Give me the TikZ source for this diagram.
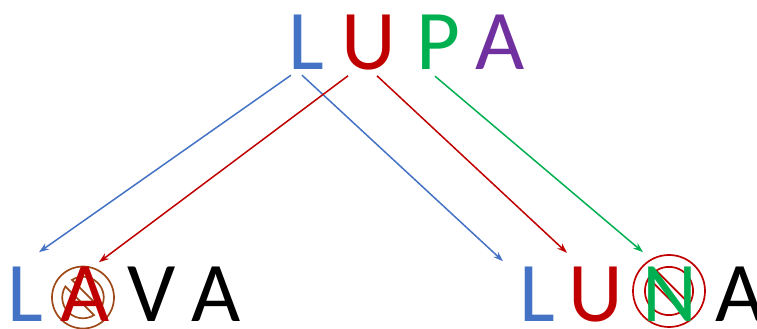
\documentclass[tikz,border=0pt]{standalone}
\usepackage{fontspec}
\setmainfont{Carlito}
\usepackage{tikz}
\usetikzlibrary{arrows.meta}
\definecolor{lblue}{HTML}{4472C4}
\definecolor{lred}{HTML}{C00000}
\definecolor{lgreen}{HTML}{00B050}
\definecolor{lpurple}{HTML}{7030A0}
\definecolor{lbrown}{HTML}{9E4A18}

\begin{document}
\begin{tikzpicture}[x=1pt, y=1pt,
    letter/.style={anchor=base, inner sep=0pt, font=\fontsize{85}{90}\selectfont},
    arr/.style={line width=1.5pt, -{Stealth[length=10pt,width=7pt]}},
    nosign/.pic={
      \draw (0,0) circle (1);
      \draw[rotate=-45] (12.9:0.67) arc (12.9:167.1:0.67) -- cycle;
      \draw[rotate=-45] (192.9:0.67) arc (192.9:347.1:0.67) -- cycle;
    }]

\useasboundingbox (0,0) rectangle (757,329);

% crossed out letters
\pic[draw=lbrown, line width=1.7pt, scale=31] at (83,31.5) {nosign};
\pic[draw=lred, line width=1.7pt, scale=36] at (669,38) {nosign};

% top word
\node[letter, text=lblue]   (tL) at (306,259) {L};
\node[letter, text=lred]    (tU) at (369,259) {U};
\node[letter, text=lgreen]  (tP) at (438,259) {P};
\node[letter, text=lpurple] (tA) at (500,259) {A};

% left word
\node[letter, text=lblue] (lL)  at (25,7)  {L};
\node[letter, text=lred]  (lA1) at (85,7)  {A};
\node[letter]             (lV)  at (152,7) {V};
\node[letter]             (lA2) at (216,7) {A};

% right word
\node[letter, text=lblue]  (rL) at (537,7) {L};
\node[letter, text=lred]   (rU) at (596,7) {U};
\node[letter, text=lgreen] (rN) at (670,7) {N};
\node[letter]              (rA) at (740,7) {A};

\draw[arr, lblue]  ([xshift=-15pt,yshift=-5pt]tL.south) -- ([xshift=14pt,yshift=70pt]lL.south);
\draw[arr, lblue]  ([xshift=-4pt,yshift=-5pt]tL.south)  -- ([xshift=-34pt,yshift=61pt]rL.south);
\draw[arr, lred]   ([xshift=-21pt,yshift=-5pt]tU.south) -- ([xshift=14pt,yshift=60pt]lA1.south);
\draw[arr, lred]   ([xshift=8pt,yshift=-5pt]tU.south)   -- ([xshift=-29pt,yshift=70pt]rU.south);
\draw[arr, lgreen] ([xshift=-3pt,yshift=-6pt]tP.south)  -- ([xshift=-27pt,yshift=70pt]rN.south);

\end{tikzpicture}
\end{document}
